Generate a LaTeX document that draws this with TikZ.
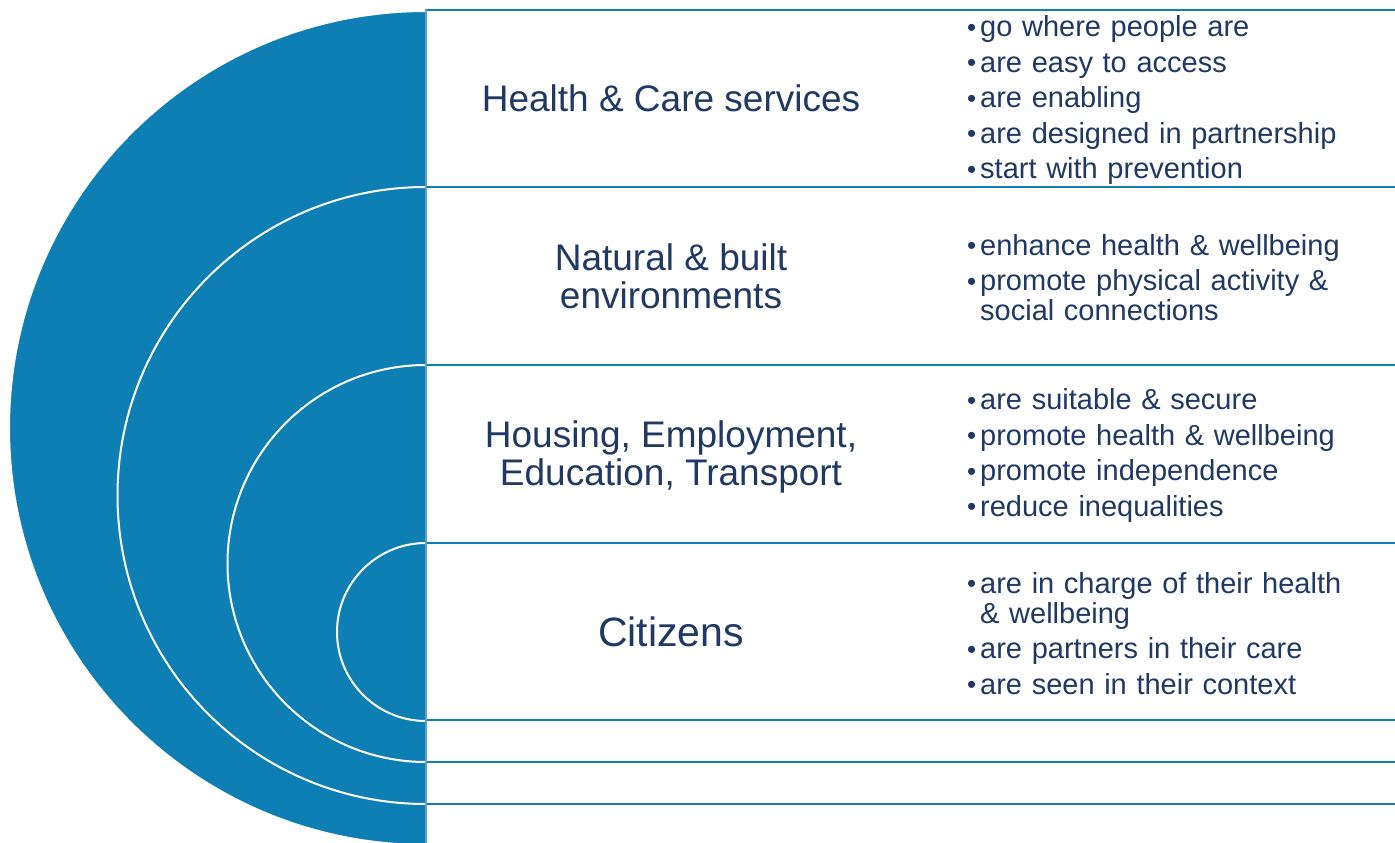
\documentclass[tikz,border=0pt]{standalone}
\usepackage{fontspec}
\setmainfont{Liberation Sans}
\usepackage{xcolor}
\usepackage{tikz}
\definecolor{ringblue}{RGB}{13,127,180}
\definecolor{edgeblue}{RGB}{90,160,205}
\definecolor{navy}{RGB}{31,56,100}
\newcommand{\bul}{\par\noindent\hangindent=13pt\hangafter=1\makebox[13pt][l]{\fontsize{26}{26}\selectfont\raisebox{0.5pt}{•}}}
\tikzset{x=1pt,y=-1pt,
         halfdisc/.style={fill=ringblue,draw=white,line width=2pt},
         rowline/.style={draw=ringblue,line width=2.4pt},
         title/.style={text=navy,align=center,font=\fontsize{37}{38}\selectfont},
         points/.style={text=navy,anchor=west,inner sep=0pt,text width=420pt,yshift=5.5pt,
                        font=\fontsize{29}{30}\selectfont\setlength{\parskip}{5.5pt}}}

\begin{document}
\begin{tikzpicture}
\useasboundingbox (0,0) rectangle (1395,843);
\clip (0,0) rectangle (1395,843);
% rings, outer to inner
\foreach \cy/\r in {428/417,495.5/308.5,563.5/198.5,632/89}
  \filldraw[halfdisc] (426,\cy-\r) arc[start angle=90,end angle=270,radius=\r pt] -- cycle;
\fill[white] (427,0) rectangle (1395,843);
\foreach \y in {10,187,365,543,720,762,804}
  \draw[rowline] (426,\y)--(1395,\y);
\draw[edgeblue,line width=2pt] (426,9)--(426,843);
% left column
\node[title] (hcs) at (671,98.5) {Health \& Care services};
\node[title] (nbe) at (671,276) {Natural \& built\\environments};
\node[title] (hee) at (671,457) {Housing, Employment,\\Education, Transport};
\node[title,font=\fontsize{41}{42}\selectfont] (cit) at (671,631.5) {Citizens};
% right column
\node[points] (hcsp) at (967,98.5) {\bul go where people are\bul are easy to access\bul are enabling\bul are designed in partnership\bul start with prevention\par};
\node[points] (nbep) at (967,276) {\bul enhance health \& wellbeing\bul promote physical activity \&\newline social connections\par};
\node[points] (heep) at (967,454) {\bul are suitable \& secure\bul promote health \& wellbeing\bul promote independence\bul reduce inequalities\par};
\node[points] (citp) at (967,631.5) {\bul are in charge of their health\newline \& wellbeing\bul are partners in their care\bul are seen in their context\par};
\end{tikzpicture}
\end{document}
